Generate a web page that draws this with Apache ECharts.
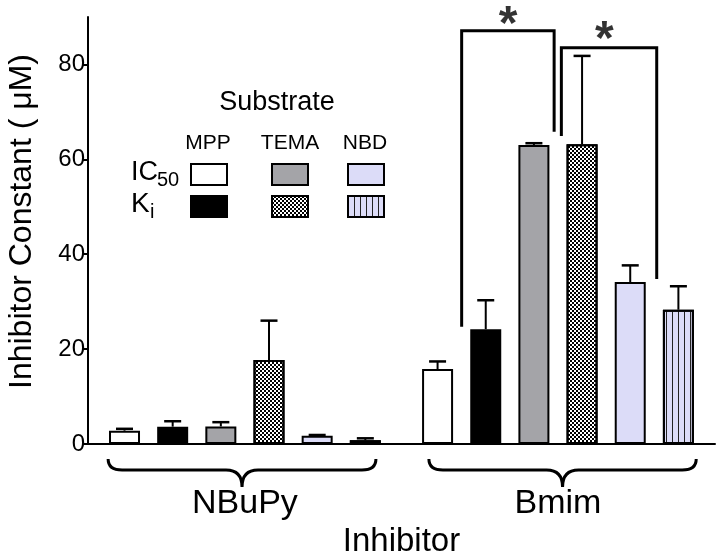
<!DOCTYPE html>
<html><head><meta charset="utf-8">
<script src="https://cdn.jsdelivr.net/npm/echarts@6/dist/echarts.min.js"></script>
<style>html,body{margin:0;padding:0;background:#fff}#c{width:717px;height:552px}</style>
</head><body><div id="c"></div>
<script>
// ---- data ----
const groups = ['NBuPy', 'Bmim'];
const groupCenters = [2.5, 9];
const seriesNames = ['MPP IC50', 'MPP Ki', 'TEMA IC50', 'TEMA Ki', 'NBD IC50', 'NBD Ki'];
// bar x positions per series: [NBuPy, Bmim]
const barPositions = [[0, 6.5], [1, 7.5], [2, 8.5], [3, 9.5], [4, 10.5], [5, 11.5]];
const meanValues = [[2.8, 15.8], [3.65, 24.2], [3.7, 63.0], [17.7, 63.2], [1.75, 34.15], [0.8, 28.3]];
const errValues = [[0.4, 1.6], [1.15, 6.1], [0.9, 0.4], [8.3, 18.6], [0.15, 3.5], [0.4, 4.95]];
const yTicks = [0, 20, 40, 60, 80];
const bracketA = [[7.0, 24.7], [7.0, 87.1], [8.92, 87.1], [8.92, 65.8]];
const bracketB = [[9.07, 64.9], [9.07, 83.5], [11.05, 83.5], [11.05, 34.8]];
const stars = [[7.965, 90.9], [9.96, 87.8]];
const braceSpans = [[-0.34, 5.22], [6.32, 11.87]];

// ---- styles ----
const FONT = '"Liberation Sans", Arial, sans-serif';
const LAV = '#dcdcf8';
const styles = [
  {color: '#ffffff'},
  {color: '#000000'},
  {color: '#a4a4a8'},
  {color: '#ffffff', decal: {symbol: 'rect', symbolSize: 1, dashArrayX: [[2, 2], [0, 2, 2, 0]], dashArrayY: [2, 0], color: '#000'}},
  {color: LAV},
  {color: LAV, decal: {symbol: 'rect', symbolSize: 1, dashArrayX: [1, 5], dashArrayY: [1, 0], color: '#222'}}
];

const series = [];
seriesNames.forEach((name, i) => {
  series.push({
    name, type: 'bar', barWidth: 31, barGap: '-100%',
    data: barPositions[i].map((x, j) => [x, meanValues[i][j]]),
    itemStyle: Object.assign({borderColor: '#000', borderWidth: 2}, styles[i]),
    z: 2
  });
});
const errData = [];
seriesNames.forEach((n, i) => barPositions[i].forEach((x, j) => errData.push([x, meanValues[i][j], errValues[i][j]])));
series.push({
  type: 'custom', data: errData, encode: {x: 0, y: 1}, z: 3, silent: true,
  renderItem(params, api) {
    const x = api.value(0), v = api.value(1), e = api.value(2);
    const p0 = api.coord([x, v]), p1 = api.coord([x, v + e]);
    return {type: 'group', children: [
      {type: 'line', shape: {x1: p0[0], y1: p0[1], x2: p1[0], y2: p1[1]}, style: {stroke: '#000', lineWidth: 2}},
      {type: 'line', shape: {x1: p1[0] - 8.5, y1: p1[1], x2: p1[0] + 8.5, y2: p1[1]}, style: {stroke: '#000', lineWidth: 2.5}}
    ]};
  }
});
[bracketA, bracketB].forEach(b => series.push({
  type: 'line', data: b, symbol: 'none', silent: true, z: 4,
  lineStyle: {color: '#000', width: 3, cap: 'butt', join: 'miter'}
}));
series.push({
  type: 'scatter', data: stars, symbolSize: 1, clip: false, silent: true, z: 5,
  itemStyle: {color: 'rgba(0,0,0,0)'},
  label: {show: true, position: 'inside', formatter: '*', fontSize: 48, fontWeight: 'bold', color: '#000', fontFamily: FONT, offset: [0, 13]}
});
series.push({
  type: 'custom', data: braceSpans, encode: {x: [0, 1]}, clip: false, silent: true,
  renderItem(params, api) {
    const a = api.coord([api.value(0), 0]), b = api.coord([api.value(1), 0]);
    const y0 = a[1], xl = a[0], xr = b[0], xm = (xl + xr) / 2;
    const t = y0 + 15, f = y0 + 26, tip = y0 + 43;
    return {type: 'path', shape: {pathData:
      `M${xl},${t} Q${xl},${f} ${xl + 14},${f} L${xm - 16},${f} Q${xm},${f} ${xm},${tip} Q${xm},${f} ${xm + 16},${f} L${xr - 14},${f} Q${xr},${f} ${xr},${t}`},
      style: {fill: 'none', stroke: '#000', lineWidth: 3}};
  }
});

const legendPos = [[190, 163], [190, 195], [271, 163], [271, 195], [347, 163], [347, 195]];
const legends = seriesNames.map((n, i) => ({
  data: [n], left: legendPos[i][0], top: legendPos[i][1], padding: 0, icon: 'rect',
  itemWidth: 36, itemHeight: 21, formatter: () => '', selectedMode: false,
  itemStyle: {borderColor: '#000', borderWidth: 2}
}));

function txt(t, x, y, size, align) {
  return {type: 'text', x, y, style: {text: t, font: `${size}px ${FONT}`, fill: '#000', textAlign: align || 'center', textVerticalAlign: 'middle'}};
}

const chart = echarts.init(document.getElementById('c'), null, {renderer: 'canvas'});
chart.setOption({
  animation: false,
  backgroundColor: '#fff',
  textStyle: {fontFamily: FONT},
  grid: {left: 88, right: 2, top: 17, bottom: 108, containLabel: false, outerBoundsMode: 'none'},
  xAxis: {
    type: 'value', min: -0.758, max: 12.26,
    axisLine: {show: true, onZero: false, lineStyle: {color: '#000', width: 2}},
    axisTick: {show: false}, splitLine: {show: false},
    axisLabel: {customValues: groupCenters, formatter: v => groups[groupCenters.indexOf(v)], fontSize: 34, margin: 43, color: '#000', fontFamily: FONT},
    name: 'Inhibitor', nameLocation: 'middle', nameGap: 72,
    nameTextStyle: {fontSize: 33, color: '#000', fontFamily: FONT}
  },
  yAxis: {
    type: 'value', min: 0, max: 90, interval: 20,
    axisLine: {show: true, onZero: false, lineStyle: {color: '#000', width: 2}},
    axisTick: {show: true, length: 6, customValues: yTicks, lineStyle: {color: '#000', width: 2}},
    axisLabel: {customValues: yTicks, fontSize: 24, color: '#000', margin: 3, fontFamily: FONT},
    splitLine: {show: false},
    name: 'Inhibitor Constant ( μM)', nameLocation: 'middle', nameGap: 50, nameRotate: 90,
    nameTextStyle: {fontSize: 32, color: '#000', fontFamily: FONT, padding: [0, 0, 0, 18]}
  },
  legend: legends,
  graphic: [
    txt('Substrate', 277, 103, 27),
    txt('MPP', 208, 143, 21),
    txt('TEMA', 290, 143, 21),
    txt('NBD', 365, 143, 21),
    txt('IC', 131, 173, 27, 'left'),
    txt('50', 157, 180, 20, 'left'),
    txt('K', 131, 204, 28, 'left'),
    txt('i', 150, 212, 20, 'left')
  ],
  series
});
</script></body></html>
